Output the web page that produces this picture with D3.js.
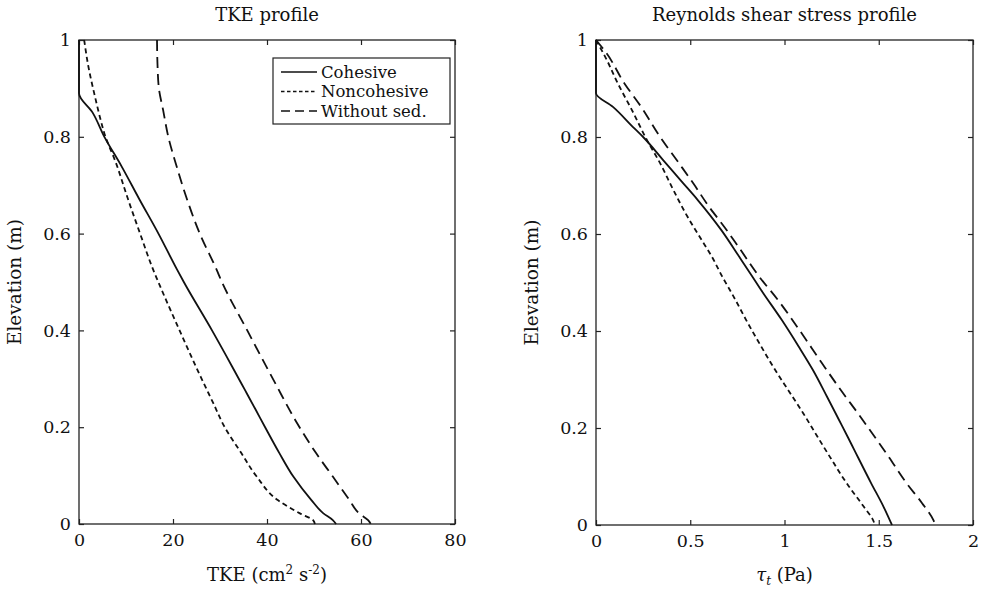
<!DOCTYPE html>
<html>
<head>
<meta charset="utf-8">
<script src="https://cdn.jsdelivr.net/npm/d3@7"></script>
<style>
  body { margin: 0; background: #fff; }
  svg text { font-family: "DejaVu Serif", "Liberation Serif", serif; fill: #111; }
</style>
</head>
<body>
<div id="chart"></div>
<script>
// [elevation (m), value]
var tkeCohesive = [[1,0],[0.89,0],[0.85,2.9],[0.80,5.4],[0.74,9.0],[0.67,12.9],[0.60,16.9],[0.525,20.9],
  [0.50,22.3],[0.40,28.3],[0.325,32.6],[0.277,35.3],[0.236,37.6],[0.20,39.6],[0.147,42.6],[0.098,45.6],
  [0.05,49.4],[0.022,52.0],[0.008,54.0],[0,54.7]];
var tkeNoncohesive = [[1,1.1],[0.945,2.0],[0.883,3.4],[0.835,4.6],[0.807,5.4],[0.745,7.9],[0.669,10.5],
  [0.60,13.0],[0.525,15.8],[0.504,16.7],[0.40,21.4],[0.304,25.9],[0.249,28.6],[0.20,31.0],[0.147,34.5],
  [0.098,37.8],[0.05,42.2],[0.022,47.0],[0.008,49.8],[0,50.2]];
var tkeNoSed = [[1,16.6],[0.95,16.7],[0.90,17.0],[0.855,17.9],[0.80,19.0],[0.738,20.8],[0.676,22.8],
  [0.60,25.7],[0.525,29.3],[0.50,30.4],[0.40,35.8],[0.29,41.8],[0.215,46.0],[0.147,50.4],[0.098,54.0],
  [0.05,57.5],[0.022,59.6],[0.008,61.5],[0,62.1]];

var tauCohesive = [[1,0],[0.89,0],[0.862,0.09],[0.821,0.195],[0.80,0.25],[0.753,0.355],[0.708,0.455],
  [0.67,0.54],[0.608,0.665],[0.553,0.76],[0.512,0.83],[0.485,0.875],[0.423,0.985],[0.368,1.075],[0.32,1.15],
  [0.265,1.225],[0.216,1.29],[0.182,1.335],[0.155,1.37],[0.086,1.46],[0.038,1.525],[0,1.57]];
var tauNoncohesive = [[1,0],[0.959,0.057],[0.911,0.115],[0.856,0.19],[0.794,0.27],[0.746,0.34],[0.691,0.41],
  [0.636,0.485],[0.588,0.56],[0.553,0.615],[0.512,0.67],[0.471,0.73],[0.423,0.796],[0.375,0.866],
  [0.32,0.95],[0.278,1.02],[0.23,1.1],[0.182,1.175],[0.141,1.24],[0.086,1.33],[0.038,1.42],
  [0.01,1.47],[0,1.48]];
var tauNoSed = [[1,0],[0.972,0.057],[0.911,0.15],[0.862,0.24],[0.80,0.34],[0.746,0.44],[0.705,0.515],
  [0.656,0.60],[0.615,0.68],[0.574,0.755],[0.512,0.866],[0.464,0.965],[0.402,1.079],[0.333,1.2],
  [0.272,1.31],[0.23,1.39],[0.189,1.465],[0.148,1.54],[0.086,1.648],[0.045,1.73],[0.01,1.79],[0,1.8]];

var elevTicks = [0, 0.2, 0.4, 0.6, 0.8, 1];
var tkeTicks = [0, 20, 40, 60, 80];
var tauTicks = [0, 0.5, 1, 1.5, 2];
var legendNames = ["Cohesive", "Noncohesive", "Without sed."];

var W = 981, H = 591;
var dashes = [null, "5,3.5", "11,6"];
var legendDashes = [null, "3.5,2.5", "9,5"];

var svg = d3.select("#chart").append("svg")
  .attr("width", W).attr("height", H);

function panel(opts) {
  var x = d3.scaleLinear().domain(opts.xDomain).range([opts.left, opts.right]);
  var y = d3.scaleLinear().domain([0, 1]).range([opts.bottom, opts.top]);
  var g = svg.append("g");
  var w = opts.right - opts.left, h = opts.bottom - opts.top;

  // ticks inward on all four sides
  g.append("g").attr("transform", "translate(0," + opts.bottom + ")")
    .call(d3.axisBottom(x).tickValues(opts.xTicks).tickSize(-5).tickPadding(10).tickFormat(d3.format("")));
  g.append("g").attr("transform", "translate(0," + opts.top + ")")
    .call(d3.axisTop(x).tickValues(opts.xTicks).tickSize(-5).tickFormat(""));
  g.append("g").attr("transform", "translate(" + opts.left + ",0)")
    .call(d3.axisLeft(y).tickValues(elevTicks).tickSize(-5).tickPadding(8).tickFormat(d3.format("")));
  g.append("g").attr("transform", "translate(" + opts.right + ",0)")
    .call(d3.axisRight(y).tickValues(elevTicks).tickSize(-5).tickFormat(""));

  g.selectAll(".domain").remove();
  g.selectAll(".tick line").attr("stroke", "#222").attr("stroke-width", 1.2);
  g.selectAll(".tick text").style("font-size", "17.5px").attr("fill", "#111");

  g.append("rect")
    .attr("x", opts.left).attr("y", opts.top).attr("width", w).attr("height", h)
    .attr("fill", "none").attr("stroke", "#222").attr("stroke-width", 1.3);

  var line = d3.line()
    .x(function(d){ return x(d[1]); })
    .y(function(d){ return y(d[0]); })
    .curve(d3.curveMonotoneY);
  opts.series.forEach(function(s, i) {
    g.append("path")
      .attr("d", line(s))
      .attr("fill", "none")
      .attr("stroke", "#111")
      .attr("stroke-width", 1.8)
      .attr("stroke-dasharray", dashes[i]);
  });

  g.append("text")
    .attr("x", (opts.left + opts.right) / 2).attr("y", 21)
    .attr("text-anchor", "middle").style("font-size", "18px")
    .text(opts.title);

  g.append("text")
    .attr("transform", "translate(" + (opts.left - 58) + "," + ((opts.top + opts.bottom) / 2) + ") rotate(-90)")
    .attr("text-anchor", "middle").style("font-size", "18.5px")
    .text("Elevation (m)");

  var xl = g.append("text")
    .attr("x", (opts.left + opts.right) / 2).attr("y", 581)
    .attr("text-anchor", "middle").style("font-size", "18px");
  opts.xLabel(xl);
}

panel({
  left: 79, right: 455, top: 40, bottom: 524,
  xDomain: [0, 80], xTicks: tkeTicks,
  series: [tkeCohesive, tkeNoncohesive, tkeNoSed],
  title: "TKE profile",
  xLabel: function(t) {
    t.append("tspan").text("TKE (cm");
    t.append("tspan").attr("dy", -7).style("font-size", "12px").text("2");
    t.append("tspan").attr("dy", 7).text(" s");
    t.append("tspan").attr("dy", -7).style("font-size", "12px").text("-2");
    t.append("tspan").attr("dy", 7).text(")");
  }
});

panel({
  left: 596, right: 973, top: 40, bottom: 525,
  xDomain: [0, 2], xTicks: tauTicks,
  series: [tauCohesive, tauNoncohesive, tauNoSed],
  title: "Reynolds shear stress profile",
  xLabel: function(t) {
    t.append("tspan").style("font-style", "italic").text("τ");
    t.append("tspan").attr("dy", 4).style("font-size", "12px").style("font-style", "italic").text("t");
    t.append("tspan").attr("dy", -4).text(" (Pa)");
  }
});

// legend in the TKE panel
var lg = svg.append("g").attr("transform", "translate(273,58)");
lg.append("rect").attr("width", 177).attr("height", 66)
  .attr("fill", "#fff").attr("stroke", "#222").attr("stroke-width", 1.2);
legendNames.forEach(function(name, i) {
  var yy = 14 + i * 19.5;
  lg.append("line").attr("x1", 8).attr("x2", 44).attr("y1", yy).attr("y2", yy)
    .attr("stroke", "#111").attr("stroke-width", 1.7)
    .attr("stroke-dasharray", legendDashes[i]);
  lg.append("text").attr("x", 48).attr("y", yy + 5.5)
    .style("font-size", "16.5px").text(name);
});
</script>
</body>
</html>
